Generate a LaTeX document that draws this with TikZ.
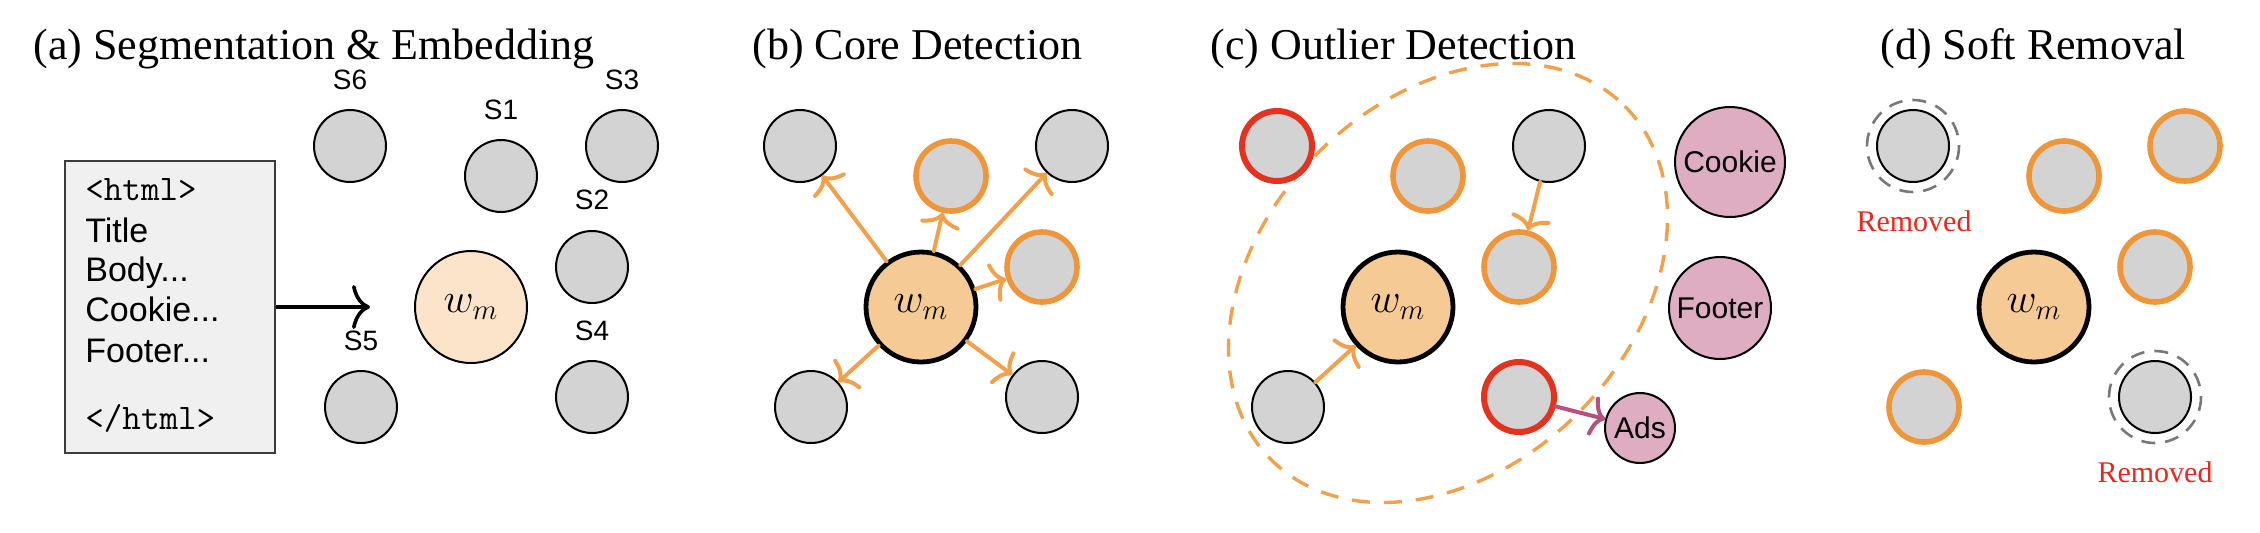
\documentclass[tikz,border=0pt]{standalone}
\usepackage{fontspec}
\setmainfont{Liberation Serif}
\setsansfont{Liberation Sans}
\usetikzlibrary{arrows.meta}
\definecolor{gfill}{HTML}{D3D3D3}
\definecolor{orng}{HTML}{F0963A}
\definecolor{orarrow}{HTML}{F2A04C}
\definecolor{redring}{HTML}{E5321F}
\definecolor{wmlight}{HTML}{FCE4CA}
\definecolor{wmfill}{HTML}{F6CA94}
\definecolor{pinkfill}{HTML}{DEADC2}
\definecolor{magarrow}{HTML}{B5507F}
\definecolor{boxfill}{HTML}{F0F0F0}
\definecolor{boxline}{HTML}{3C3C3C}
\definecolor{remred}{HTML}{E8281E}
\definecolor{dashgray}{HTML}{787878}
\begin{document}
\begin{tikzpicture}[x=0.5pt,y=-0.5pt,
  seg/.style={circle, draw=black, line width=1pt, fill=gfill, minimum size=36pt, inner sep=0pt},
  segor/.style={circle, draw=orng, line width=2.8pt, fill=gfill, minimum size=35pt, inner sep=0pt},
  segred/.style={circle, draw=redring, line width=3pt, fill=gfill, minimum size=35pt, inner sep=0pt},
  wmA/.style={circle, draw=black, line width=1pt, fill=wmlight, minimum size=56pt, inner sep=0pt, font=\fontsize{20}{24}\selectfont},
  wmB/.style={circle, draw=black, line width=2.4pt, fill=wmfill, minimum size=55pt, inner sep=0pt, font=\fontsize{20}{24}\selectfont},
  pinknode/.style={circle, draw=black, line width=1pt, fill=pinkfill, inner sep=0pt, font=\sffamily\fontsize{15}{18}\selectfont},
  slabel/.style={font=\sffamily\fontsize{14}{16}\selectfont, inner sep=0pt},
  paneltitle/.style={font=\fontsize{22}{26}\selectfont, anchor=base west, inner sep=0pt},
  htmltext/.style={font=\sffamily\fontsize{17}{19}\selectfont, anchor=base west, inner sep=0pt},
  htmltag/.style={font=\ttfamily\fontsize{18}{20}\selectfont, anchor=base west, inner sep=0pt},
  oarrow/.style={draw=orarrow, line width=2pt, line cap=round, -{Computer Modern Rightarrow[length=7pt,width=20pt]}},
  marrow/.style={draw=magarrow, line width=2pt, line cap=round, -{Computer Modern Rightarrow[length=7pt,width=20pt]}},
  removedring/.style={draw=dashgray, line width=1.3pt, dash pattern=on 7pt off 5pt},
  removedtext/.style={font=\fontsize{15}{18}\selectfont, text=remred, inner sep=0pt},
  outlierzone/.style={draw=orarrow, line width=1.7pt, dash pattern=on 9pt off 7pt}
]
\useasboundingbox (0,0) rectangle (2260,532);

% ---------- titles
\node[paneltitle] (ta) at (33,59) {(a) Segmentation \& Embedding};
\node[paneltitle] (tb) at (752,59) {(b) Core Detection};
\node[paneltitle] (tc) at (1210,59) {(c) Outlier Detection};
\node[paneltitle] (td) at (1880,59) {(d) Soft Removal};

% ---------- panel (a)
\node[draw=boxline, line width=1.3pt, fill=boxfill, minimum width=105pt, minimum height=146pt, inner sep=0pt] (html) at (170,307) {};
\node[htmltag] (l1) at (85,200) {<html>};
\node[htmltext] (l2) at (85,242) {Title};
\node[htmltext] (l3) at (85,281) {Body...};
\node[htmltext] (l4) at (85,321) {Cookie...};
\node[htmltext] (l5) at (85,362) {Footer...};
\node[htmltag] (l6) at (85,429) {</html>};
\coordinate (aend) at (370,307);
\draw[line width=1.8pt, -{Computer Modern Rightarrow[length=9pt,width=22pt]}] (html.east |- aend) -- (aend);

\node[seg] (a6) at (350,146) {};
\node[seg] (a1) at (501,176) {};
\node[seg] (a3) at (622,146) {};
\node[seg] (a2) at (592,267) {};
\node[seg] (a4) at (592,397) {};
\node[seg] (a5) at (361,407) {};
\node[wmA] (aw) at (471,307) {$w_m$};
\node[slabel] (sa6) at (350,80) {S6};
\node[slabel] (sa1) at (501,110) {S1};
\node[slabel] (sa3) at (622,80) {S3};
\node[slabel] (sa2) at (592,200) {S2};
\node[slabel] (sa4) at (592,331) {S4};
\node[slabel] (sa5) at (361,341) {S5};

% ---------- panel (b)
\begin{scope}[shift={(450,0)}]
\node[seg] (b6) at (350,146) {};
\node[segor] (b1) at (501,176) {};
\node[seg] (b3) at (622,146) {};
\node[segor] (b2) at (592,267) {};
\node[seg] (b4) at (592,397) {};
\node[seg] (b5) at (361,407) {};
\node[wmB] (bw) at (471,307) {$w_m$};
\end{scope}
\foreach \t in {b6,b1,b3,b2,b4,b5} \draw[oarrow] (bw) -- (\t);

% ---------- panel (c)
\draw[outlierzone, rotate around={45:(1448,283)}] (1448,283) ellipse [x radius=250, y radius=184];
\begin{scope}[shift={(927,0)}]
\node[segred] (c6) at (350,146) {};
\node[segor] (c1) at (501,176) {};
\node[seg] (c3) at (622,146) {};
\node[segor] (c2) at (592,267) {};
\node[segred] (c4) at (592,397) {};
\node[seg] (c5) at (361,407) {};
\node[wmB] (cw) at (471,307) {$w_m$};
\end{scope}
\node[pinknode, minimum size=55pt] (cookie) at (1730,162) {Cookie};
\node[pinknode, minimum size=51pt] (footer) at (1720,308) {Footer};
\node[pinknode, minimum size=35pt] (ads) at (1640,428) {Ads};
\draw[oarrow] (c5) -- (cw);
\draw[oarrow] (c3) -- (c2);
\draw[marrow] (c4) -- (ads);

% ---------- panel (d)
\begin{scope}[shift={(1563,0)}]
\node[seg] (d6) at (350,146) {};
\node[segor] (d1) at (501,176) {};
\node[segor] (d3) at (622,146) {};
\node[segor] (d2) at (592,267) {};
\node[seg] (d4) at (592,397) {};
\node[segor] (d5) at (361,407) {};
\node[wmB] (dw) at (471,307) {$w_m$};
\node[removedtext] (r1) at (351,221) {Removed};
\node[removedtext] (r2) at (592,472) {Removed};
\end{scope}
\draw[removedring] (d6.center) circle [radius=46];
\draw[removedring] (d4.center) circle [radius=46];
\end{tikzpicture}
\end{document}
